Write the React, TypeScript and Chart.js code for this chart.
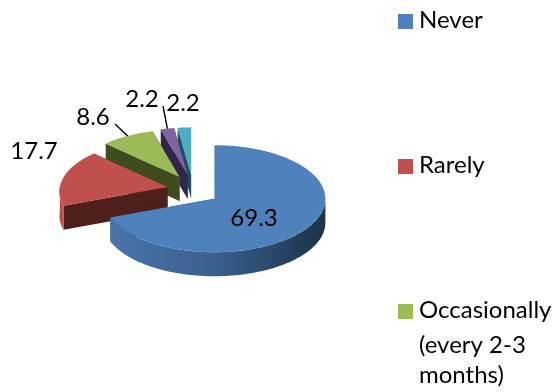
import React, { useEffect, useRef } from "react";
import { Chart, registerables } from "chart.js";

Chart.register(...registerables);

const categories = ["Never", "Rarely", "Occasionally (every 2-3 months)", "", ""];
const shares = [69.3, 17.7, 8.6, 2.2, 2.2];
const topColors = ["#4F81BD", "#C0504D", "#9BBB59", "#8064A2", "#4BACC6"];
const faceColors = ["#2C4A6E", "#4F1F1C", "#3F4C20", "#32254A", "#1D5060"];
const legendLines = [["Never"], ["Rarely"], ["Occasionally", "(every 2-3", "months)"]];
const legendBaselines = [28, 173, 318];
const legendLineOffsets = [0, 35, 65];

const FONT = "Lato, 'Open Sans', sans-serif";
const TILT = 0.482;
const DEPTH = 24;
const EXPLODE_X = 26;
const EXPLODE_Y = 15.3;
// Exploded slices shrink toward the back to suggest perspective
const recede = [0, 0.085, 0.085, 0.085, 0.085];
const valueLabelSpots = [
  { x: 254, y: 218 },
  { x: 34, y: 151 },
  { x: 93, y: 117 },
  { x: 142, y: 99 },
  { x: 183, y: 103 },
];
const leaderStarts = [null, null, { x: 115, y: 124 }, { x: 163, y: 106 }, null];

// Paints the tilted, exploded pie from the arcs the pie controller laid out.
const tiltedPie = {
  id: "tiltedPie",
  beforeDatasetsDraw(chart: any) {
    const { ctx } = chart;
    const arcs = chart.getDatasetMeta(0).data;
    const geometry = arcs.map((arc: any, i: number) => {
      const mid = (arc.startAngle + arc.endAngle) / 2;
      const cx = arc.x + Math.cos(mid) * EXPLODE_X;
      const cy = arc.y + Math.sin(mid) * EXPLODE_Y;
      const r = arc.outerRadius;
      const at = (a: number) => {
        const s = 1 + recede[i] * (Math.sin(a) - 0.35);
        return { x: cx + Math.cos(a) * r * s, y: cy + Math.sin(a) * r * TILT * s };
      };
      return { start: arc.startAngle, end: arc.endAngle, mid, r, cx, cy, at };
    });

    const traceRim = (g: any, from: number, to: number, dy: number) => {
      const steps = Math.max(2, Math.ceil(Math.abs(to - from) / 0.02));
      for (let n = 0; n <= steps; n++) {
        const p = g.at(from + ((to - from) * n) / steps);
        ctx.lineTo(p.x, p.y + dy);
      }
    };

    ctx.save();
    for (let i = geometry.length - 1; i >= 0; i--) {
      const g = geometry[i];

      // Radial cut faces
      ctx.fillStyle = faceColors[i];
      for (const a of [g.start, g.end]) {
        const p = g.at(a);
        ctx.beginPath();
        ctx.moveTo(g.cx, g.cy);
        ctx.lineTo(p.x, p.y);
        ctx.lineTo(p.x, p.y + DEPTH);
        ctx.lineTo(g.cx, g.cy + DEPTH);
        ctx.closePath();
        ctx.fill();
      }

      // Outer wall, only on the half of the ellipse facing the viewer
      const from = Math.max(g.start, 0);
      const to = Math.min(g.end, Math.PI);
      if (to > from) {
        const wall = ctx.createLinearGradient(g.cx - g.r, 0, g.cx + g.r, 0);
        wall.addColorStop(0, i === 0 ? "#4A76AC" : topColors[i]);
        wall.addColorStop(0.5, i === 0 ? "#39608F" : faceColors[i]);
        wall.addColorStop(1, i === 0 ? "#1C3248" : faceColors[i]);
        ctx.fillStyle = wall;
        ctx.beginPath();
        traceRim(g, from, to, 0);
        traceRim(g, to, from, DEPTH);
        ctx.closePath();
        ctx.fill();
      }

      // Top face
      ctx.fillStyle = topColors[i];
      ctx.beginPath();
      ctx.moveTo(g.cx, g.cy);
      traceRim(g, g.start, g.end, 0);
      ctx.closePath();
      ctx.fill();
    }

    // Leader lines end on the rim of their slice
    ctx.strokeStyle = "#000";
    ctx.lineWidth = 1.4;
    leaderStarts.forEach((from, i) => {
      if (!from) return;
      const end = geometry[i].at(geometry[i].mid);
      ctx.beginPath();
      ctx.moveTo(from.x, from.y);
      ctx.lineTo(end.x, end.y);
      ctx.stroke();
    });

    // Value labels
    ctx.fillStyle = "#000";
    ctx.font = `24px ${FONT}`;
    ctx.textAlign = "center";
    ctx.textBaseline = "middle";
    shares.forEach((v, i) => {
      ctx.fillText(v.toFixed(1), valueLabelSpots[i].x, valueLabelSpots[i].y);
    });

    // Legend, spread over the height of the frame
    ctx.textAlign = "left";
    ctx.textBaseline = "alphabetic";
    legendLines.forEach((lines, i) => {
      const base = legendBaselines[i];
      ctx.fillStyle = topColors[i];
      ctx.fillRect(398, base - 14, 15, 15);
      ctx.fillStyle = "#000";
      lines.forEach((line, n) => ctx.fillText(line, 419, base + legendLineOffsets[n]));
    });
    ctx.restore();
    return false;
  },
};

export default function App() {
  const ref = useRef<HTMLCanvasElement>(null);
  useEffect(() => {
    const chart = new Chart(ref.current as HTMLCanvasElement, {
      type: "pie",
      data: {
        labels: categories,
        datasets: [{ data: shares, backgroundColor: topColors, borderWidth: 0 }],
      },
      options: {
        responsive: false,
        animation: false,
        layout: { padding: { left: 82, right: 252, top: 79, bottom: 91 } },
        plugins: { legend: { display: false }, tooltip: { enabled: false } },
      },
      plugins: [tiltedPie],
    } as any);
    return () => chart.destroy();
  }, []);
  return (
    <div style={{ position: "absolute", left: 0, top: 0, width: 556, height: 392 }}>
      <canvas ref={ref} width={556} height={392} style={{ display: "block" }} />
    </div>
  );
}
